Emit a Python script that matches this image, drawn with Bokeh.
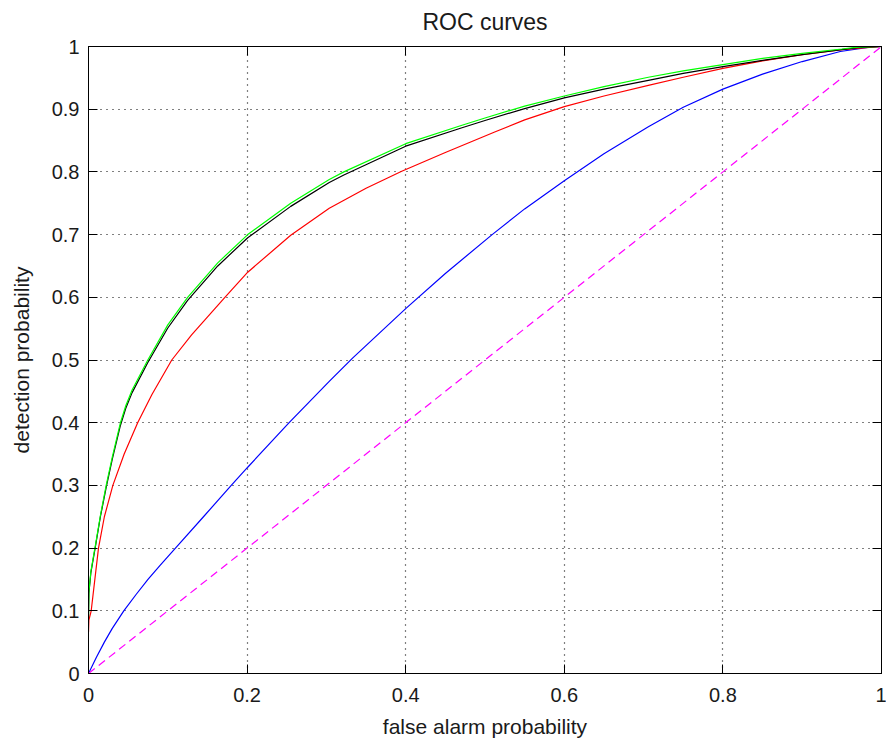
from bokeh.plotting import figure
from bokeh.models import Range1d, FixedTicker, LinearAxis, CustomJSTickFormatter
from bokeh.embed import file_html
from bokeh.resources import INLINE

TITLE = "ROC curves"

# green curve
pfa_green = [0, 0.0005, 0.003, 0.0088, 0.015, 0.0223, 0.03, 0.0403, 0.047, 0.055, 0.0748, 0.1,
             0.125, 0.163, 0.2008, 0.255, 0.3036, 0.322, 0.4, 0.47, 0.5, 0.55, 0.6, 0.65, 0.706,
             0.75, 0.8, 0.85, 0.9, 0.95, 0.97, 1.0]
pd_green = [0.09, 0.13, 0.163, 0.205, 0.252, 0.3, 0.345, 0.4, 0.427, 0.452, 0.5, 0.556,
            0.6, 0.655, 0.7, 0.75, 0.788, 0.8, 0.845, 0.874, 0.886, 0.905, 0.921, 0.936, 0.951,
            0.961, 0.971, 0.981, 0.989, 0.996, 0.999, 1.0]

# black curve
pfa_black = [0, 0.0005, 0.003, 0.0088, 0.015, 0.0223, 0.03, 0.0403, 0.047, 0.055, 0.0748, 0.1,
             0.125, 0.163, 0.2008, 0.255, 0.3036, 0.322, 0.4, 0.47, 0.5, 0.55, 0.6, 0.65, 0.706,
             0.75, 0.8, 0.85, 0.9, 0.95, 0.97, 1.0]
pd_black = [0.09, 0.128, 0.161, 0.203, 0.25, 0.297, 0.342, 0.396, 0.423, 0.448, 0.496, 0.551,
            0.595, 0.65, 0.695, 0.745, 0.783, 0.795, 0.841, 0.87, 0.882, 0.901, 0.918, 0.932,
            0.946, 0.957, 0.968, 0.978, 0.987, 0.995, 0.998, 1.0]

# red curve
pfa_red = [0, 0.0005, 0.0034, 0.0126, 0.02, 0.0307, 0.045, 0.062, 0.08, 0.105, 0.13, 0.172,
           0.2008, 0.255, 0.3036, 0.35, 0.395, 0.45, 0.513, 0.55, 0.6, 0.65, 0.706, 0.75, 0.8,
           0.85, 0.9, 0.95, 1.0]
pd_red = [0.066, 0.085, 0.1, 0.2, 0.25, 0.3, 0.35, 0.4, 0.445, 0.5, 0.54, 0.6,
          0.64, 0.699, 0.742, 0.774, 0.801, 0.831, 0.864, 0.883, 0.904, 0.921, 0.938, 0.951,
          0.965, 0.977, 0.987, 0.995, 1.0]

# blue curve
pfa_blue = [0, 0.01, 0.02, 0.03, 0.0445, 0.06, 0.075, 0.09, 0.1105, 0.145, 0.18, 0.2008, 0.253,
            0.3036, 0.333, 0.4, 0.45, 0.509, 0.55, 0.6, 0.65, 0.706, 0.75, 0.8, 0.85, 0.9,
            0.948, 0.985, 1.0]
pd_blue = [0.0, 0.026, 0.05, 0.072, 0.1, 0.126, 0.15, 0.172, 0.201, 0.25, 0.3, 0.329, 0.4,
           0.466, 0.503, 0.582, 0.638, 0.7, 0.741, 0.786, 0.829, 0.872, 0.903, 0.932, 0.956,
           0.976, 0.992, 0.999, 1.0]

# chance line
diag_x = [0, 1]
diag_y = [0, 1]

x_ticks = [0, 0.2, 0.4, 0.6, 0.8, 1.0]
y_ticks = [0, 0.1, 0.2, 0.3, 0.4, 0.5, 0.6, 0.7, 0.8, 0.9, 1.0]

FONT = "Liberation Sans"
TXT = "#1a1a1a"

p = figure(width=886, height=740, output_backend="svg", toolbar_location=None,
           x_range=Range1d(0, 1), y_range=Range1d(0, 1),
           min_border_left=88, min_border_right=5, min_border_top=46, min_border_bottom=67)
p.background_fill_color = "white"
p.border_fill_color = "white"
p.outline_line_color = "black"
p.outline_line_width = 1

fmt = CustomJSTickFormatter(code="return String(Math.round(tick*10)/10);")

for ax, ticks in ((p.xaxis[0], x_ticks), (p.yaxis[0], y_ticks)):
    ax.ticker = FixedTicker(ticks=ticks)
    ax.formatter = fmt
    ax.major_tick_in = 9
    ax.major_tick_out = 0
    ax.minor_tick_in = 0
    ax.minor_tick_out = 0
    ax.major_tick_line_color = "black"
    ax.axis_line_color = "black"
    ax.major_label_text_font = FONT
    ax.major_label_text_font_size = "20px"
    ax.major_label_text_color = TXT
    ax.axis_label_text_font = FONT
    ax.axis_label_text_font_size = "21px"
    ax.axis_label_text_font_style = "normal"
    ax.axis_label_text_color = TXT

p.xaxis[0].axis_label = "false alarm probability"
p.yaxis[0].axis_label = "detection probability"
p.xaxis[0].major_label_standoff = 14
p.xaxis[0].axis_label_standoff = 10
p.yaxis[0].major_label_standoff = 9
p.yaxis[0].axis_label_standoff = 16

# mirrored ticks on top and right (box on); the top one also carries the title
for loc, ticks in (("right", y_ticks), ("above", x_ticks)):
    ax = LinearAxis(ticker=FixedTicker(ticks=ticks))
    ax.major_tick_in = 9
    ax.major_tick_out = 0
    ax.minor_tick_in = 0
    ax.minor_tick_out = 0
    ax.major_label_text_color = None
    ax.major_label_text_font_size = "1px"
    ax.major_label_standoff = 0
    ax.axis_line_color = "black"
    ax.major_tick_line_color = "black"
    if loc == "above":
        ax.axis_label = TITLE
        ax.axis_label_text_font = FONT
        ax.axis_label_text_font_size = "23px"
        ax.axis_label_text_font_style = "normal"
        ax.axis_label_text_color = TXT
        ax.axis_label_standoff = 12
    p.add_layout(ax, loc)

p.xgrid.ticker = FixedTicker(ticks=x_ticks)
p.ygrid.ticker = FixedTicker(ticks=y_ticks)
for g in (p.xgrid[0], p.ygrid[0]):
    g.grid_line_color = "black"
    g.grid_line_dash = "1 5"
    g.grid_line_width = 1.2

p.line(pfa_blue, pd_blue, line_color="#0000ff", line_width=1.2)
p.line(pfa_red, pd_red, line_color="#ff0000", line_width=1.2)
p.line(pfa_black, pd_black, line_color="black", line_width=1.2)
p.line(pfa_green, pd_green, line_color="#00ff00", line_width=1.2)
p.line(diag_x, diag_y, line_color="#ff00ff", line_width=1.2, line_dash="8 5")

open("out.html", "w").write(file_html(p, INLINE))
